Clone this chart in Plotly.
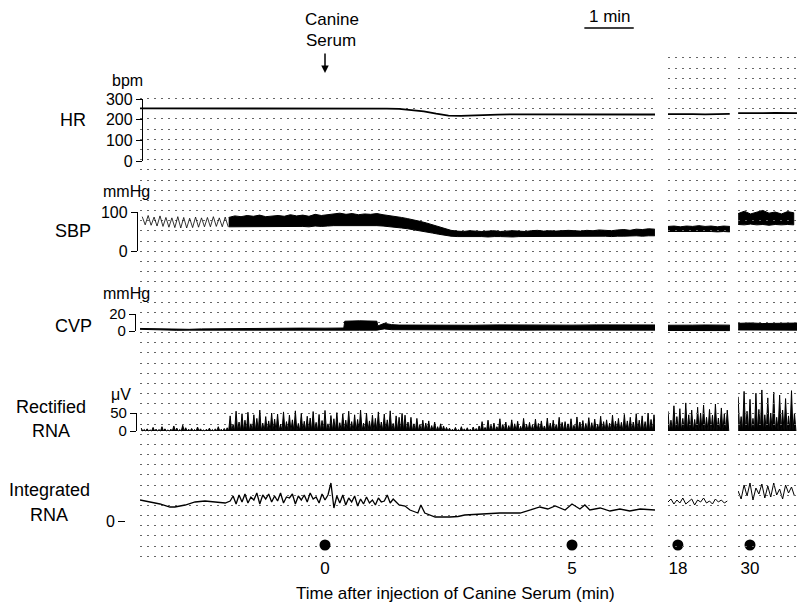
import numpy as np
import plotly.graph_objects as go

W, H = 797, 604
FONT = "Liberation Sans, Arial, Helvetica, sans-serif"

# ======================= DATA =======================
# Time after injection (min). Main record and two later excerpts.
time_labels_main = [0, 5]
time_labels_seg2 = [18]
time_labels_seg3 = [30]

# ---- HR (bpm) ----
hr_main_t0, hr_dt = -3.75, 0.25
hr_main = [255, 255, 256, 255, 255, 254, 255, 255, 256, 255, 255, 255, 254, 255, 255,
           255, 254, 253, 254, 253, 253,
           252, 247, 240, 229, 220, 218, 219, 222, 224,
           226, 226, 225, 226, 227, 226, 226, 227, 227, 226, 225, 226, 225]
hr_seg2_t0, hr_seg3_t0 = 17.8, 29.76
hr_seg2 = [227, 228, 227, 226, 227, 228]
hr_seg3 = [232, 231, 232, 233, 232, 232]

# ---- SBP (mmHg) ----
# early pulsatile part: systolic / diastolic of each beat
sbp_early_t0, sbp_early_dt = -3.70, 0.12
sbp_early_sys = [88, 91, 87, 90, 86, 85, 88, 86, 84, 87, 85, 86, 88, 85, 87]
sbp_early_dia = [67, 66, 64, 63, 61, 60, 59, 59, 60, 61, 62, 62, 63, 62, 62]
# dense part: upper / lower envelope
sbp_t0, sbp_dt = -1.95, 0.125
sbp_sys = [86, 90, 88, 91, 89, 92, 88, 90, 91, 89, 93, 90, 92, 89, 94, 91,
           93, 95, 97, 94, 96, 93, 95, 94, 96, 93, 91, 88, 86, 83, 80, 76, 72,
           67, 62, 57, 53, 51, 50, 52, 51, 50, 51, 52, 50, 51, 52, 51, 50, 52,
           53, 51, 52, 51, 52, 53, 52, 51, 53, 52, 54, 53, 52, 54, 55, 53, 56,
           55, 57, 56]
sbp_dia = [62, 63, 62, 62, 63, 62, 63, 62, 62, 63, 62, 63, 63, 62, 64, 63,
           64, 65, 66, 65, 66, 65, 66, 65, 65, 64, 62, 61, 59, 57, 55, 52, 49,
           46, 43, 40, 38, 37, 37, 36, 37, 37, 36, 37, 37, 37, 36, 37, 37, 37,
           38, 37, 37, 37, 38, 37, 37, 38, 37, 38, 38, 38, 37, 38, 38, 38, 39,
           38, 39, 39]
sbp_seg_dt = 0.125
sbp_seg2_sys = [63, 64, 62, 64, 63, 65, 63, 64, 62, 64, 63]
sbp_seg2_dia = [50, 49, 50, 49, 50, 49, 50, 50, 49, 50, 49]
sbp_seg3_sys = [96, 102, 95, 99, 104, 97, 100, 95, 101, 98]
sbp_seg3_dia = [68, 67, 69, 67, 68, 66, 68, 67, 68, 67]

# ---- CVP (mmHg): upper / lower envelope ----
cvp_t = [-3.75, -3.5, -3.25, -3.0, -2.75, -2.5, -2.25, -2.0, -1.75, -1.5, -1.0, -0.5,
         0.0, 0.38, 0.40, 0.7, 1.05, 1.07, 1.2, 1.35, 1.5, 2.0, 2.5, 3.0, 3.5, 4.0,
         4.5, 5.0, 5.5, 6.0, 6.5, 6.75]
cvp_hi = [3.0, 2.6, 2.2, 1.8, 2.0, 2.5, 2.7, 2.4, 3.2, 3.3, 3.2, 3.4, 3.3, 3.5,
          11.5, 12.0, 11.5, 6.0, 9.0, 7.5, 7.0, 6.8, 7.0, 6.8, 7.2, 6.9, 7.1, 6.9,
          7.2, 7.0, 7.3, 7.1]
cvp_lo = [2.0, 1.6, 1.2, 0.8, 1.0, 1.5, 1.7, 1.4, 1.2, 1.2, 1.1, 1.2, 1.2, 1.2,
          1.0, 1.0, 1.0, 1.2, 2.5, 1.5, 1.0, 1.0, 1.1, 1.0, 1.0, 1.0, 1.1, 1.0,
          1.0, 1.0, 1.1, 1.0]
cvp_seg_dt = 0.25
cvp_seg2_hi = [6.8, 7.2, 6.9, 7.1, 7.0, 6.9]
cvp_seg2_lo = [0.6, 0.5, 0.7, 0.5, 0.6, 0.5]
cvp_seg3_hi = [9.0, 9.5, 8.8, 9.3, 9.1, 9.4]
cvp_seg3_lo = [1.2, 1.0, 1.3, 1.1, 1.2, 1.0]

# ---- Rectified RNA (uV): burst peaks every 0.06 min ----
rna_t0, rna_dt = -3.72, 0.06
rna_main = [8, 4, 6, 3, 10, 5, 4, 12, 6, 3, 5, 14, 8, 4, 16, 9, 5, 7, 4, 11, 6, 3, 5, 8, 4, 6, 12, 5, 7, 9,
            42, 18, 55, 25, 48, 30, 52, 20, 45, 35, 58, 22, 40, 28, 50, 33, 47, 19, 53, 26,
            44, 31, 56, 21, 49, 27, 41, 36, 54, 24, 46, 29, 57, 20, 43, 34, 51, 23, 48, 30,
            55, 26, 45, 32, 58, 22, 50, 28, 44, 35, 53, 25, 47, 31, 56, 21, 42, 38, 49,
            44, 25, 38, 20, 35, 18, 30, 22, 28, 15, 25, 12, 20, 14, 10,
            8, 5, 10, 4, 12, 6, 9, 5, 11, 7,
            14, 26, 10, 30, 16, 22, 12, 34, 18, 25, 15, 31, 20, 27, 13, 35, 19, 24, 17, 33,
            21, 28, 14, 36, 22, 30, 18, 38, 24, 26, 20, 34, 16, 39, 25, 29, 21, 37, 23, 33,
            19, 41, 26, 31, 22, 44, 27, 35, 24, 46, 28, 38, 25, 48, 30, 42, 26, 50, 32, 45]
rna_seg2_t0, rna_seg3_t0 = 17.8, 29.76
rna_seg2 = [55, 30, 70, 40, 62, 35, 78, 45, 58, 32, 66, 50, 72, 38, 60, 44, 75, 36, 64, 48, 58]
rna_seg3 = [95, 40, 110, 55, 88, 35, 105, 60, 114, 45, 92, 50, 108, 38, 100, 58, 90, 42, 112, 50]

# ---- Integrated RNA (arbitrary units above 0) ----
irna_early_t = [-3.745, -3.54, -3.34, -3.14, -3.04, -2.83, -2.63, -2.43, -2.23, -2.02]
irna_early = [21, 19, 17, 14, 14, 16, 19, 20, 19, 18]
irna_noisy_t0, irna_noisy_dt = -1.92, 0.06
irna_noisy = [20, 25, 17, 26, 19, 27, 18, 24, 21, 28, 17, 26, 22, 27, 19, 25, 20, 28, 18, 24,
              23, 27, 17, 25, 21, 26, 19, 28, 22, 24, 18, 27, 21, 26, 38, 13,
              25, 18, 26, 16, 23, 19, 25, 15, 22, 17, 24, 18, 21, 16, 23, 19, 20, 26, 18, 22, 19, 16]
irna_late_t = [1.62, 1.72, 1.88, 1.94, 2.02, 2.23, 2.53, 2.69, 2.83, 3.14, 3.54, 3.95, 4.15,
               4.35, 4.51, 4.66, 4.86, 5.0, 5.16, 5.26, 5.36, 5.57, 5.77, 5.97, 6.17, 6.38, 6.68]
irna_late = [15, 11, 8, 16, 8, 4, 4, 4.5, 6, 7, 8, 8, 11, 14, 12, 15, 11, 17, 12, 16, 11,
             13, 10, 12, 10, 12, 11]
irna_seg_dt = 0.06
irna_seg2 = [19, 22, 17, 21, 18, 23, 17, 20, 22, 16, 21, 19, 23, 18, 20, 17, 22, 19, 21, 18, 20]
irna_seg3 = [30, 22, 36, 25, 38, 21, 33, 27, 37, 23, 35, 24, 38, 26, 32, 22, 36, 28, 34, 25]

# ======================= HELPERS =======================
def py(px):
    return 1 - px / H


def times(t0, dt, vals):
    return t0 + dt * np.arange(len(vals))


def band(t, hi, lo):
    t = list(t)
    return t + t[::-1], list(hi) + list(lo)[::-1]


def zigzag(t, a, b, half):
    xs, ys = [], []
    for ti, ai, bi in zip(t, a, b):
        xs += [ti, ti + half]
        ys += [ai, bi]
    return xs, ys


def panel(zero_px, px_per_unit, top_px, bottom_px):
    return dict(domain=[py(bottom_px), py(top_px)],
                range=[(zero_px - bottom_px) / px_per_unit, (zero_px - top_px) / px_per_unit])


PX_PER_MIN = 49.4
segs = {"x": (140, 655, -3.745), "x2": (668, 730, 17.80), "x3": (738, 797, 29.757)}

fig = go.Figure()


def add(x, y, xa, ya, **kw):
    d = dict(x=x, y=y, xaxis=xa, yaxis=ya, mode="lines", hoverinfo="skip", showlegend=False)
    d.update(kw)
    fig.add_trace(go.Scatter(**d))


# background chart-paper subplots (drawn first)
add([], [], "x", "y")
add([], [], "x2", "y13")
add([], [], "x3", "y13")
for ya in ["y7", "y8", "y9", "y10", "y11"]:
    add([], [], "x", ya)

# HR
add(times(hr_main_t0, hr_dt, hr_main), hr_main, "x", "y2", line=dict(color="black", width=1.8))
add(times(hr_seg2_t0, hr_dt, hr_seg2), hr_seg2, "x2", "y2", line=dict(color="black", width=1.8))
add(times(hr_seg3_t0, hr_dt, hr_seg3), hr_seg3, "x3", "y2", line=dict(color="black", width=1.8))

# SBP
ex, ey = zigzag(times(sbp_early_t0, sbp_early_dt, sbp_early_sys), sbp_early_sys, sbp_early_dia,
                sbp_early_dt / 2)
add(ex, ey, "x", "y3", line=dict(color="black", width=0.8))
for xa, t0, hi, lo in [("x", sbp_t0, sbp_sys, sbp_dia),
                       ("x2", 17.8, sbp_seg2_sys, sbp_seg2_dia),
                       ("x3", 29.76, sbp_seg3_sys, sbp_seg3_dia)]:
    dt = sbp_dt if xa == "x" else sbp_seg_dt
    bx, by = band(times(t0, dt, hi), hi, lo)
    add(bx, by, xa, "y3", fill="toself", fillcolor="black", line=dict(color="black", width=1))

# CVP
for xa, t, hi, lo in [("x", cvp_t, cvp_hi, cvp_lo),
                      ("x2", times(17.8, cvp_seg_dt, cvp_seg2_hi), cvp_seg2_hi, cvp_seg2_lo),
                      ("x3", times(29.76, cvp_seg_dt, cvp_seg3_hi), cvp_seg3_hi, cvp_seg3_lo)]:
    bx, by = band(t, hi, lo)
    add(bx, by, xa, "y4", fill="toself", fillcolor="black", line=dict(color="black", width=1))

# Rectified RNA
for xa, t0, vals in [("x", rna_t0, rna_main), ("x2", rna_seg2_t0, rna_seg2), ("x3", rna_seg3_t0, rna_seg3)]:
    zx, zy = zigzag(times(t0, rna_dt, vals), vals, [0] * len(vals), rna_dt / 2)
    add(zx, zy, xa, "y5", fill="tozeroy", fillcolor="black", line=dict(color="black", width=1))

# Integrated RNA
it = list(irna_early_t) + list(times(irna_noisy_t0, irna_noisy_dt, irna_noisy)) + list(irna_late_t)
iv = irna_early + irna_noisy + irna_late
add(it, iv, "x", "y6", line=dict(color="black", width=1.3))
add(times(17.8, irna_seg_dt, irna_seg2), irna_seg2, "x2", "y6", line=dict(color="black", width=1))
add(times(29.76, irna_seg_dt, irna_seg3), irna_seg3, "x3", "y6", line=dict(color="black", width=1))

# time markers
for xa, tl in [("x", time_labels_main), ("x2", time_labels_seg2), ("x3", time_labels_seg3)]:
    add(tl, [0] * len(tl), xa, "y12", mode="markers", marker=dict(color="black", size=11))

# ======================= LAYOUT =======================
hidden = dict(showgrid=False, zeroline=False, showline=False, showticklabels=False, ticks="")
layout = dict(width=W, height=H, margin=dict(l=0, r=0, t=0, b=0), template="none",
              paper_bgcolor="white", plot_bgcolor="rgba(0,0,0,0)", showlegend=False,
              font=dict(family=FONT, color="black", size=17))

for ax, (x0, x1, tl) in segs.items():
    key = "xaxis" if ax == "x" else "xaxis" + ax[1:]
    tv = {"x": time_labels_main, "x2": time_labels_seg2, "x3": time_labels_seg3}[ax]
    layout[key] = dict(domain=[x0 / W, x1 / W], range=[tl, tl + (x1 - x0) / PX_PER_MIN],
                       anchor="y12", showgrid=False, zeroline=False, showline=False, ticks="",
                       tickvals=tv, ticktext=[str(v) for v in tv], tickfont=dict(size=17))

ROW0, ROW_PX = 180, 10.17
grid = dict(showgrid=True, gridcolor="#666", griddash="2px,5px", gridwidth=1, dtick=1, tick0=0,
            zeroline=False, showline=False, showticklabels=False, ticks="")
layout["yaxis"] = dict(anchor="x", domain=[py(560), py(95)],
                       range=[-(560 - ROW0) / ROW_PX, (ROW0 - 95) / ROW_PX], **grid)
layout["yaxis13"] = dict(anchor="x2", domain=[py(560), py(50)],
                         range=[-(560 - ROW0) / ROW_PX, (ROW0 - 50) / ROW_PX], **grid)

layout["yaxis2"] = dict(anchor="x", **panel(161, 62 / 300, 92, 166), **hidden)     # HR
layout["yaxis3"] = dict(anchor="x", **panel(251, 0.39, 198, 254), **hidden)       # SBP
layout["yaxis4"] = dict(anchor="x", **panel(331, 0.85, 308, 334), **hidden)       # CVP
layout["yaxis5"] = dict(anchor="x", **panel(431, 0.36, 384, 434), **hidden)       # rect RNA
layout["yaxis6"] = dict(anchor="x", **panel(521, 1.0, 470, 524), **hidden)        # int RNA
layout["yaxis12"] = dict(anchor="x", domain=[py(556), py(534)], range=[-1, 1], **hidden)

scale = dict(anchor="free", showgrid=False, zeroline=False, showline=True, linecolor="black",
             linewidth=1.3, ticks="outside", ticklen=6, tickwidth=1.3, tickcolor="black",
             tickfont=dict(size=16))
layout["yaxis7"] = dict(position=142 / W, domain=[py(161), py(99)], range=[0, 300],
                        tickvals=[0, 100, 200, 300], **scale)
layout["yaxis8"] = dict(position=137 / W, domain=[py(251), py(212)], range=[0, 100],
                        tickvals=[0, 100], **scale)
s9 = dict(scale)
s9["tickfont"] = dict(size=15)
layout["yaxis9"] = dict(position=135 / W, domain=[py(331), py(314)], range=[0, 20],
                        tickvals=[0, 20], **s9)
layout["yaxis10"] = dict(position=136 / W, domain=[py(431), py(413)], range=[0, 50],
                         tickvals=[0, 50], **s9)
s11 = dict(scale)
s11["showline"] = False
s11["ticklen"] = 7
layout["yaxis11"] = dict(position=125 / W, domain=[py(523), py(519)], range=[-1, 1],
                         tickvals=[0], **s11)


def ann(text, x, y, size=17, **kw):
    d = dict(text=text, x=x / W, y=py(y), xref="paper", yref="paper", showarrow=False,
             xanchor="center", yanchor="middle", font=dict(size=size, family=FONT, color="black"))
    d.update(kw)
    return d


annotations = [
    ann("HR", 73, 120, 18), ann("SBP", 73, 231, 18), ann("CVP", 73, 326, 18),
    ann("Rectified", 51, 407, 18), ann("RNA", 51, 431, 18),
    ann("Integrated", 49, 490, 18), ann("RNA", 49, 515, 18),
    ann("bpm", 128, 81, 16), ann("mmHg", 126, 191, 16), ann("mmHg", 126, 294, 16),
    ann("μV", 121, 394, 16),
    ann("Canine", 332, 20, 17), ann("Serum", 331, 40, 17),
    ann("1 min", 610, 16, 17),
    ann("Time after injection of Canine Serum (min)", 455, 593, 17),
    dict(x=0, xref="x", y=py(73), yref="paper", ax=0, ay=-21, text="", showarrow=True,
         arrowhead=2, arrowsize=1, arrowwidth=1.5, arrowcolor="black"),
]
layout["annotations"] = annotations
SCALE_BAR_START = 5.25
layout["shapes"] = [dict(type="line", xref="x", x0=SCALE_BAR_START, x1=SCALE_BAR_START + 1,
                         yref="paper", y0=py(28), y1=py(28), line=dict(color="black", width=1.6))]

fig.update_layout(**layout)
fig.write_html("out.html")
